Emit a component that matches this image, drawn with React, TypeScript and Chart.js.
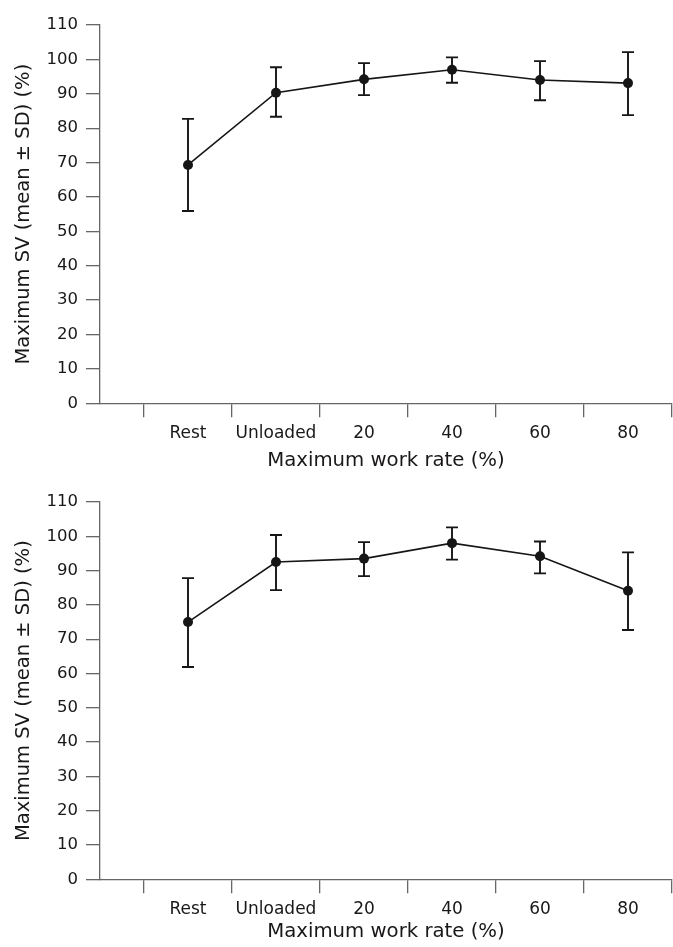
import React, { useEffect, useRef } from "react";
import { Chart, registerables } from "chart.js";

Chart.register(...registerables);

const categories = ["Rest", "Unloaded", "20", "40", "60", "80"];
const yMin = 0;
const yMax = 110;
const yStep = 10;

const meanTop = [69.3, 90.3, 94.2, 97.0, 94.0, 93.1];
const upperTop = [82.7, 97.7, 98.9, 100.6, 99.5, 102.1];
const lowerTop = [55.9, 83.3, 89.6, 93.2, 88.1, 83.8];

const meanBottom = [75.0, 92.5, 93.5, 98.0, 94.2, 84.1];
const upperBottom = [87.8, 100.4, 98.3, 102.6, 98.5, 95.3];
const lowerBottom = [61.9, 84.3, 88.4, 93.2, 89.2, 72.7];

const yTitle = "Maximum SV (mean \u00b1 SD) (%)";
const xTitle = "Maximum work rate (%)";

const FONT = "'DejaVu Sans', sans-serif";
const TEXT = "#1a1718";
const AXIS = "#666666";
const INK = "#161616";

type PanelProps = {
  top: number;
  height: number;
  xAxisHeight: number;
  titlePad: number;
  mean: number[];
  upper: number[];
  lower: number[];
};

function Panel({ top, height, xAxisHeight, titlePad, mean, upper, lower }: PanelProps) {
  const ref = useRef<HTMLCanvasElement | null>(null);

  useEffect(() => {
    if (!ref.current) return;
    const errorBars = {
      id: "errorBars",
      beforeDatasetsDraw(chart: any) {
        const { ctx } = chart;
        const xs = chart.scales.x;
        const ys = chart.scales.y;
        ctx.save();
        ctx.strokeStyle = INK;
        ctx.lineWidth = 1.9;
        const cap = 6;
        for (let i = 0; i < mean.length; i++) {
          const x = xs.getPixelForValue(i + 1);
          const yu = ys.getPixelForValue(upper[i]);
          const yl = ys.getPixelForValue(lower[i]);
          ctx.beginPath();
          ctx.moveTo(x, yu);
          ctx.lineTo(x, yl);
          ctx.moveTo(x - cap, yu);
          ctx.lineTo(x + cap, yu);
          ctx.moveTo(x - cap, yl);
          ctx.lineTo(x + cap, yl);
          ctx.stroke();
        }
        ctx.restore();
      },
    };

    const xTickValues: number[] = [];
    for (let v = 0.5; v <= categories.length + 0.5; v += 0.5) xTickValues.push(v);

    const chart = new Chart(ref.current, {
      type: "line",
      data: {
        datasets: [
          {
            data: mean.map((y, i) => ({ x: i + 1, y })),
            borderColor: INK,
            borderWidth: 1.6,
            pointBackgroundColor: INK,
            pointBorderColor: INK,
            pointRadius: 5,
            pointBorderWidth: 0,
            tension: 0,
            fill: false,
            clip: false,
          },
        ],
      },
      options: {
        animation: false,
        responsive: false,
        devicePixelRatio: 1,
        layout: { autoPadding: false, padding: { top: 25, right: 1, left: 0, bottom: 0 } },
        plugins: { legend: { display: false }, tooltip: { enabled: false } },
        scales: {
          x: {
            type: "linear",
            min: 0,
            max: categories.length + 0.5,
            afterBuildTicks: (scale: any) => {
              scale.ticks = xTickValues.map((value) => ({ value }));
            },
            afterFit: (scale: any) => {
              scale.height = xAxisHeight;
              scale.paddingLeft = 0;
              scale.paddingRight = 0;
            },
            grid: {
              drawOnChartArea: false,
              drawTicks: true,
              tickLength: 14,
              lineWidth: 1.3,
              color: (c: any) =>
                c.tick && Number.isInteger(c.tick.value) ? "rgba(0,0,0,0)" : AXIS,
            },
            border: { display: true, color: AXIS, width: 1.3 },
            ticks: {
              autoSkip: false,
              maxRotation: 0,
              padding: 6,
              color: TEXT,
              font: { family: FONT, size: 17 },
              callback: (value: any) =>
                Number.isInteger(value) ? categories[value - 1] ?? "" : "",
            },
            title: {
              display: true,
              text: xTitle,
              color: TEXT,
              font: { family: FONT, size: 19.7 },
              padding: { top: 0, bottom: titlePad },
            },
          },
          y: {
            type: "linear",
            min: yMin,
            max: yMax,
            afterFit: (scale: any) => {
              scale.width = 100;
            },
            grid: {
              drawOnChartArea: false,
              drawTicks: true,
              tickLength: 14,
              lineWidth: 1.3,
              color: AXIS,
            },
            border: { display: true, color: AXIS, width: 1.3 },
            ticks: {
              stepSize: yStep,
              padding: 8,
              color: TEXT,
              font: { family: FONT, size: 16.5 },
            },
            title: {
              display: true,
              text: yTitle,
              color: TEXT,
              font: { family: FONT, size: 19.5 },
              padding: { top: 12, bottom: 0 },
            },
          },
        },
      },
      plugins: [errorBars],
    });
    return () => chart.destroy();
  }, []);

  return (
    <canvas
      ref={ref}
      width={673}
      height={height}
      style={{ position: "absolute", left: 0, top, width: 673, height, display: "block" }}
    />
  );
}

export default function App() {
  return (
    <div style={{ position: "absolute", left: 0, top: 0, width: 673, height: 947, background: "#fff" }}>
      <Panel top={0} height={477} xAxisHeight={73.7} titlePad={4.5} mean={meanTop} upper={upperTop} lower={lowerTop} />
      <Panel top={477} height={470} xAxisHeight={67.7} titlePad={3} mean={meanBottom} upper={upperBottom} lower={lowerBottom} />
    </div>
  );
}
